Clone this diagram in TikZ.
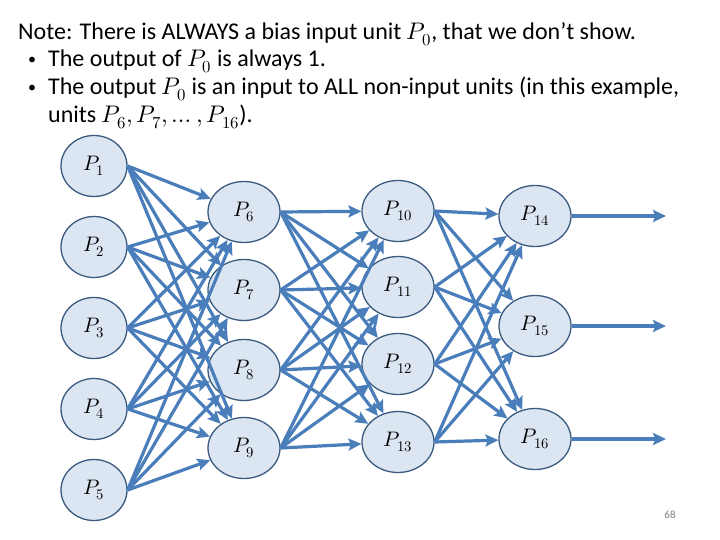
\documentclass[tikz,border=0pt]{standalone}
\usepackage{fontspec}
\usepackage{unicode-math}
\setmainfont{Carlito}
\setmathfont{Latin Modern Math}
\usetikzlibrary{arrows.meta,shapes.geometric}
\definecolor{edgec}{HTML}{4A7EBB}
\definecolor{nfill}{HTML}{DCE6F2}
\definecolor{nline}{HTML}{3A5A80}
\begin{document}
\begin{tikzpicture}[x=1pt,y=-1pt,
 unit/.style={ellipse,draw=nline,fill=nfill,line width=1.3pt,minimum width=72pt,minimum height=61pt,inner sep=0pt,font=\fontsize{21}{21}\selectfont},
 inunit/.style={unit,minimum width=66pt},
 conn/.style={draw=edgec,line width=3.2pt,-{Stealth[length=13pt,width=12pt,inset=2.5pt]}},
 txt/.style={anchor=base west,font=\fontsize{24}{27}\selectfont,inner sep=0pt},
 bul/.style={anchor=base west,font=\fontsize{16}{27}\selectfont,inner sep=0pt},
 pg/.style={font=\fontsize{11}{11}\selectfont,text=gray,inner sep=0pt}]
\useasboundingbox (0,0) rectangle (720,540);
\fill[white] (0,0) rectangle (720,540);
% text
\node[txt] (l1) at (18,40) {Note: There is ALWAYS a bias input unit $P_0$, that we don’t show.};
\node[bul] (b2) at (28,65) {•};
\node[txt] (l2) at (48,67) {The output of $P_0$ is always 1.};
\node[bul] (b3) at (28,93) {•};
\node[txt] (l3) at (48,95) {The output $P_0$ is an input to ALL non-input units (in this example,};
\node[txt] (l4) at (48,123) {units $P_6, P_7, \dots, P_{16}$).};
% input layer
\node[inunit] (P1) at (94,166) {$P_1$};
\node[inunit] (P2) at (94,247) {$P_2$};
\node[inunit] (P3) at (94,328) {$P_3$};
\node[inunit] (P4) at (94,409) {$P_4$};
\node[inunit] (P5) at (94,490) {$P_5$};
% hidden 1
\node[unit] (P6) at (244,212) {$P_6$};
\node[unit] (P7) at (244,290) {$P_7$};
\node[unit] (P8) at (244,370) {$P_8$};
\node[unit] (P9) at (244,448) {$P_9$};
% hidden 2
\node[unit] (P10) at (398,211) {$P_{10}$};
\node[unit] (P11) at (398,287) {$P_{11}$};
\node[unit] (P12) at (398,364) {$P_{12}$};
\node[unit] (P13) at (398,442) {$P_{13}$};
% output
\node[unit] (P14) at (535,216) {$P_{14}$};
\node[unit] (P15) at (535,326) {$P_{15}$};
\node[unit] (P16) at (535,439) {$P_{16}$};
% free ends
\coordinate (o14) at (666,216);
\coordinate (o15) at (666,326);
\coordinate (o16) at (666,439);
% connections
\foreach \i in {1,...,5}{\foreach \j in {6,...,9}{\draw[conn] (P\i.east) -- (P\j);}}
\foreach \i in {6,...,9}{\foreach \j in {10,...,13}{\draw[conn] (P\i.east) -- (P\j);}}
\foreach \i in {10,...,13}{\foreach \j in {14,...,16}{\draw[conn] (P\i.east) -- (P\j);}}
\draw[conn] (P14.east) -- (o14);
\draw[conn] (P15.east) -- (o15);
\draw[conn] (P16.east) -- (o16);
\node[pg] (pn) at (670,515) {68};
\end{tikzpicture}
\end{document}
